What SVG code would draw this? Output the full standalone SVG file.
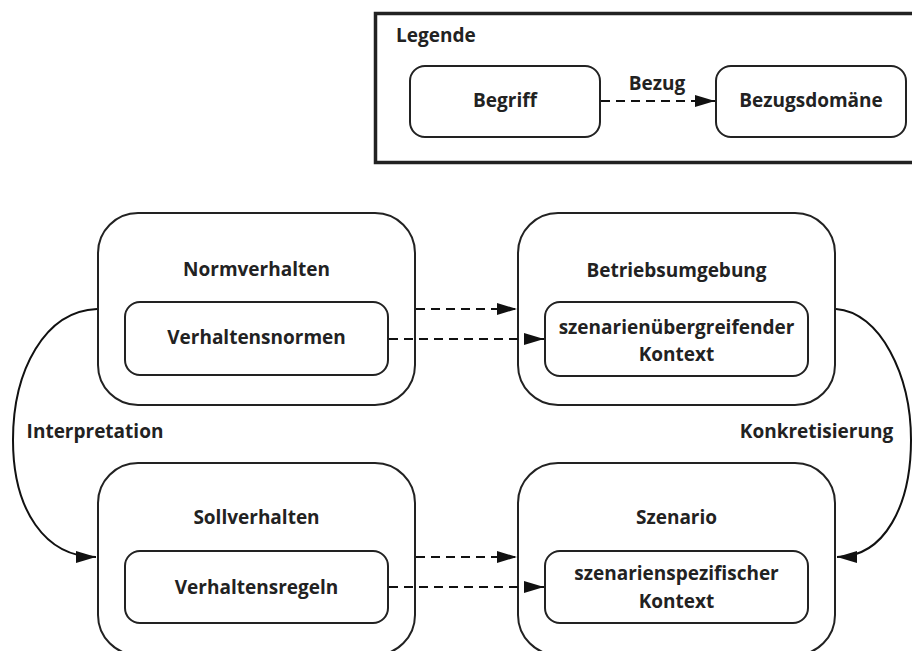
<svg xmlns="http://www.w3.org/2000/svg" width="912" height="651" viewBox="0 0 912 651">
<defs>
<style>
.t{font-family:"Open Sans","Noto Sans","Liberation Sans",sans-serif;font-weight:bold;font-size:19px;fill:#222;text-anchor:middle}
.box{fill:#fff;stroke:#222;stroke-width:2}
.dash{fill:none;stroke:#111;stroke-width:2.2;stroke-dasharray:9 6}
.curve{fill:none;stroke:#111;stroke-width:2}
</style>
<marker id="ah" markerUnits="userSpaceOnUse" markerWidth="20" markerHeight="12" refX="20" refY="6" orient="auto">
<path d="M0,0 L20,6 L0,12 z" fill="#111"/>
</marker>
</defs>
<rect width="912" height="651" fill="#fff"/>
<g id="legend">
<rect x="375.5" y="13.5" width="545" height="149" fill="#fff" stroke="#222" stroke-width="3.5"/>
<text class="t" x="396" y="42" style="text-anchor:start">Legende</text>
<g id="legend-begriff">
<rect class="box" x="410" y="66" width="190" height="71" rx="15"/>
<text class="t" x="505" y="107">Begriff</text>
</g>
<g id="legend-bezugsdomaene">
<rect class="box" x="716" y="66" width="190" height="71" rx="15"/>
<text class="t" x="811" y="107">Bezugsdomäne</text>
</g>
<g id="legend-connector">
<line class="dash" x1="601" y1="101" x2="715" y2="101" marker-end="url(#ah)"/>
<text class="t" x="657" y="90">Bezug</text>
</g>
</g>
<g id="normverhalten">
<rect class="box" x="98" y="213" width="317" height="192" rx="40"/>
<text class="t" x="256.5" y="276">Normverhalten</text>
</g>
<g id="verhaltensnormen">
<rect class="box" x="125" y="302" width="263" height="73" rx="15"/>
<text class="t" x="256.5" y="344">Verhaltensnormen</text>
</g>
<g id="betriebsumgebung">
<rect class="box" x="518" y="213" width="317" height="192" rx="40"/>
<text class="t" x="676.5" y="277">Betriebsumgebung</text>
</g>
<g id="uebergreifender-kontext">
<rect class="box" x="545" y="302" width="263" height="74" rx="15"/>
<text class="t" x="676.5" y="334">szenarienübergreifender</text>
<text class="t" x="676.5" y="361">Kontext</text>
</g>
<g id="sollverhalten">
<rect class="box" x="98" y="463" width="317" height="192" rx="40"/>
<text class="t" x="256.5" y="524">Sollverhalten</text>
</g>
<g id="verhaltensregeln">
<rect class="box" x="125" y="551" width="263" height="72" rx="15"/>
<text class="t" x="256.5" y="594">Verhaltensregeln</text>
</g>
<g id="szenario">
<rect class="box" x="518" y="463" width="317" height="192" rx="40"/>
<text class="t" x="676.5" y="524">Szenario</text>
</g>
<g id="spezifischer-kontext">
<rect class="box" x="545" y="551" width="263" height="72" rx="15"/>
<text class="t" x="676.5" y="580">szenarienspezifischer</text>
<text class="t" x="676.5" y="608">Kontext</text>
</g>
<g id="connectors">
<line class="dash" x1="416" y1="309" x2="517" y2="309" marker-end="url(#ah)"/>
<line class="dash" x1="389" y1="339" x2="544" y2="339" marker-end="url(#ah)"/>
<line class="dash" x1="416" y1="557" x2="517" y2="557" marker-end="url(#ah)"/>
<line class="dash" x1="389" y1="587" x2="544" y2="587" marker-end="url(#ah)"/>
<path class="curve" d="M97,309 C45,311 13,370 13,440 C13,510 45,557 96,557" marker-end="url(#ah)"/>
<path class="curve" d="M836,309 C880,312 911,375 911,440 C911,505 885,557 837,557" marker-end="url(#ah)"/>
<text class="t" x="95" y="438">Interpretation</text>
<text class="t" x="816.5" y="438">Konkretisierung</text>
</g>
</svg>
